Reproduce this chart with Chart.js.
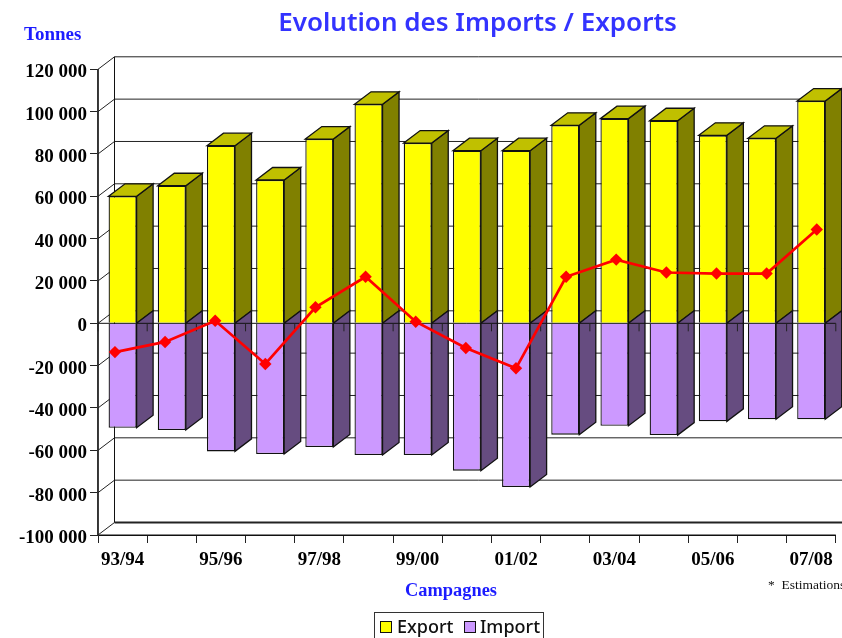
<!DOCTYPE html>
<html>
<head>
<meta charset="utf-8">
<title>Evolution des Imports / Exports</title>
<script src="https://cdn.jsdelivr.net/npm/chart.js@4/dist/chart.umd.min.js"></script>
<style>
html, body { margin: 0; padding: 0; background: #fff; overflow: hidden; }
canvas { display: block; }
</style>
</head>
<body>
<canvas id="myChart" width="842" height="638"></canvas>
<script>
const campagnes = ['93/94','94/95','95/96','96/97','97/98','98/99','99/00','00/01','01/02','02/03','03/04','04/05','05/06','06/07','07/08'];
const exportValues = [60000,65000,83900,67700,87060,103460,85170,81540,81540,93540,96700,95700,88800,87400,105000];
const importValues = [-49300,-50400,-60500,-61700,-58440,-62200,-62200,-69600,-77300,-52600,-48400,-52800,-46300,-45300,-45300];
const soldeValues = [-13600,-8800,1200,-19200,7560,22000,750,-11670,-21260,22000,30100,24000,23500,23500,44300];
const linePositions = [0,1,2,3,4,5,6,7,8,9,10,11,12,13,14];

// depth of the fake 3D box, in pixels
const depthX = 16.5;
const depthY = 12.5;

function poly(ctx, pts, fill){
    ctx.beginPath();
    ctx.moveTo(pts[0][0], pts[0][1]);
    for(let i = 1; i < pts.length; i++){
        ctx.lineTo(pts[i][0], pts[i][1]);
    }
    ctx.closePath();
    ctx.fillStyle = fill;
    ctx.fill();
    ctx.strokeStyle = '#111';
    ctx.lineWidth = 1.3;
    ctx.stroke();
}

function line(ctx, x1, y1, x2, y2, color, width){
    ctx.beginPath();
    ctx.moveTo(x1, y1);
    ctx.lineTo(x2, y2);
    ctx.strokeStyle = color;
    ctx.lineWidth = width || 1;
    ctx.stroke();
}

const walls3d = {
    id: 'walls3d',
    beforeDatasetsDraw(chart){
        const ctx = chart.ctx;
        const yScale = chart.scales.y;
        const area = chart.chartArea;
        const backLeft = area.left + depthX;
        ctx.save();
        // front axis lines, the left one is a bit soft in the original
        line(ctx, area.left - 0.3, area.top, area.left - 0.3, area.bottom, '#333', 1.4);
        line(ctx, area.left, area.bottom, area.right, area.bottom, '#111');
        // back wall and left wall grid
        yScale.ticks.forEach((t) => {
            const y = yScale.getPixelForValue(t.value);
            line(ctx, area.left, y, backLeft, y - depthY, '#222');
            line(ctx, backLeft, y - depthY, chart.width, y - depthY, '#222', t.value === yScale.min ? 2 : 1);
        });
        line(ctx, backLeft, area.top - depthY, backLeft, area.bottom - depthY, '#111');

        // side and top faces, taken from the bars the library laid out
        const zero = yScale.getPixelForValue(0);
        chart.getDatasetMeta(0).data.forEach((bar) => {
            const l = bar.x - bar.width / 2;
            const r = bar.x + bar.width / 2;
            poly(ctx, [[r, bar.y], [r + depthX, bar.y - depthY], [r + depthX, zero - depthY], [r, zero]], '#808000');
            poly(ctx, [[l, bar.y], [l + depthX, bar.y - depthY], [r + depthX, bar.y - depthY], [r, bar.y]], '#C0C000');
        });
        chart.getDatasetMeta(1).data.forEach((bar) => {
            const r = bar.x + bar.width / 2;
            poly(ctx, [[r, zero], [r + depthX, zero - depthY], [r + depthX, bar.y - depthY], [r, bar.y]], '#664C80');
        });
        ctx.restore();
    },
    beforeDatasetDraw(chart, args){
        if(args.index !== 2) return;
        // zero axis with its ticks, above the bars and under the red line
        const ctx = chart.ctx;
        const xScale = chart.scales.x;
        const zero = chart.scales.y.getPixelForValue(0);
        const step = xScale.getPixelForValue(1) - xScale.getPixelForValue(0);
        ctx.save();
        line(ctx, chart.chartArea.left, zero, chart.chartArea.right, zero, '#111');
        for(let i = 0; i <= campagnes.length; i++){
            const x = xScale.getPixelForValue(0) - step / 2 + i * step;
            line(ctx, x, zero, x, zero + 8, '#222');
        }
        ctx.restore();
    }
};

const textsAndLegend = {
    id: 'textsAndLegend',
    afterDraw(chart){
        const ctx = chart.ctx;
        ctx.save();
        ctx.textBaseline = 'alphabetic';
        ctx.textAlign = 'left';

        ctx.fillStyle = '#3333FF';
        ctx.font = '600 26px "Noto Sans"';
        ctx.textAlign = 'center';
        ctx.fillText('Evolution des Imports / Exports', 477.5, 31);
        ctx.textAlign = 'left';

        ctx.fillStyle = '#1C1CFF';
        ctx.font = 'bold 19px "Liberation Serif"';
        ctx.fillText('Tonnes', 24, 40);
        ctx.font = 'bold 18.4px "Liberation Serif"';
        ctx.fillText('Campagnes', 405, 596);

        ctx.fillStyle = '#111';
        ctx.font = '13.5px "Liberation Serif"';
        ctx.fillText('*  Estimations', 768, 589);

        // legend box runs off the bottom of the picture
        ctx.strokeStyle = '#333';
        ctx.lineWidth = 1;
        ctx.strokeRect(374.5, 612.5, 169, 30);
        ctx.font = '500 18px "Noto Sans"';
        const items = [[380, 397, chart.data.datasets[0]], [464, 480, chart.data.datasets[1]]];
        items.forEach((it) => {
            ctx.fillStyle = it[2].backgroundColor;
            ctx.fillRect(it[0] + 0.5, 621.5, 11, 11);
            ctx.strokeStyle = '#111';
            ctx.strokeRect(it[0] + 0.5, 621.5, 11, 11);
            ctx.fillStyle = '#111';
            ctx.fillText(it[2].label, it[1], 633);
        });
        ctx.restore();
    }
};

const ctx = document.getElementById('myChart').getContext('2d');
new Chart(ctx, {
    type: 'bar',
    data: {
        labels: campagnes,
        datasets: [
            {
                label: 'Export',
                data: exportValues,
                backgroundColor: '#FFFF00',
                borderColor: '#111',
                borderWidth: 1.3,
                borderSkipped: 'start',
                grouped: false,
                barPercentage: 0.57,
                categoryPercentage: 1,
                order: 1
            },
            {
                label: 'Import',
                data: importValues,
                backgroundColor: '#CC99FF',
                borderColor: '#111',
                borderWidth: 1.3,
                borderSkipped: 'start',
                grouped: false,
                barPercentage: 0.57,
                categoryPercentage: 1,
                order: 1
            },
            {
                type: 'line',
                label: 'Solde',
                data: linePositions.map((p, i) => ({ x: p, y: soldeValues[i] })),
                xAxisID: 'x2',
                borderColor: '#FF0000',
                backgroundColor: '#FF0000',
                borderWidth: 2.7,
                pointStyle: 'rectRot',
                pointRadius: 6.2,
                pointBorderWidth: 0,
                tension: 0,
                clip: false,
                order: 0
            }
        ]
    },
    options: {
        responsive: false,
        animation: false,
        layout: { padding: { top: 69.3, right: 4.3, left: 0, bottom: 0 } },
        plugins: {
            legend: { display: false },
            title: { display: false },
            tooltip: { enabled: false }
        },
        scales: {
            x: {
                offset: true,
                border: { color: '#111', width: 1 },
                grid: { drawOnChartArea: false, offset: true, tickLength: 8, color: '#222' },
                ticks: {
                    autoSkip: false,
                    maxRotation: 0,
                    padding: 6,
                    color: '#000',
                    font: { family: '"Liberation Serif"', size: 19, weight: 'bold' },
                    callback: function(value, index){
                        return index % 2 === 0 ? this.getLabelForValue(value) : '';
                    }
                },
                afterFit(s){ s.height = 103; }
            },
            x2: {
                type: 'linear',
                display: false,
                offset: false,
                min: -0.338,
                max: 14.38
            },
            y: {
                min: -100000,
                max: 120000,
                border: { color: '#444', width: 1 },
                grid: { drawOnChartArea: false, tickLength: 8, color: '#222' },
                ticks: {
                    stepSize: 20000,
                    padding: 3,
                    labelOffset: 3,
                    color: '#000',
                    font: { family: '"Liberation Serif"', size: 19, weight: 'bold' },
                    callback: function(value){
                        return String(value).replace(/\B(?=(\d{3})+$)/g, ' ');
                    }
                },
                afterFit(s){ s.width = 98; }
            }
        }
    },
    plugins: [walls3d, textsAndLegend]
});
</script>
</body>
</html>
